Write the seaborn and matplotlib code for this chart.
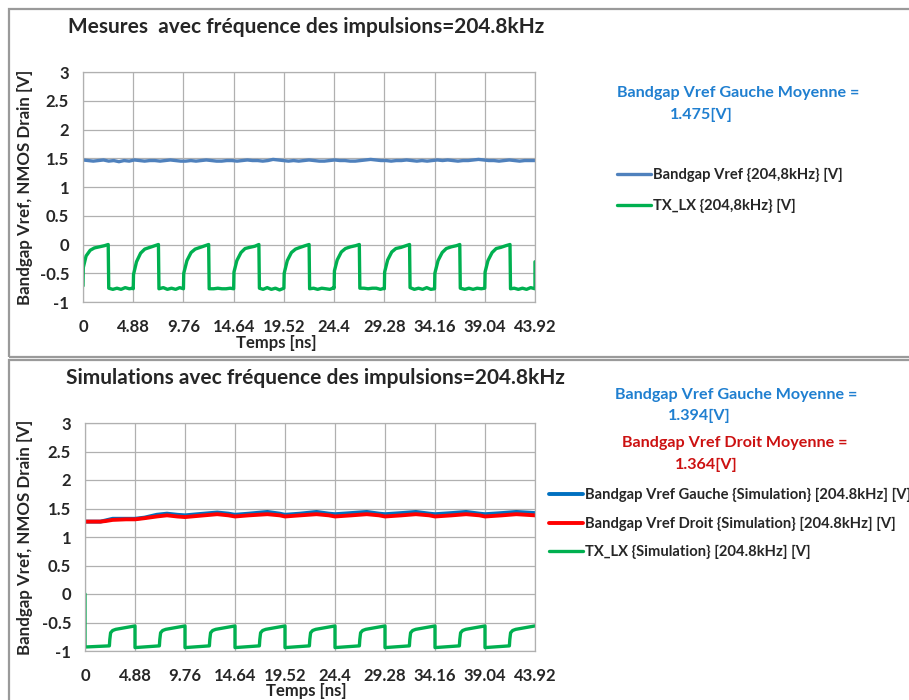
import numpy as np
import matplotlib.pyplot as plt
import matplotlib.patches as patches
import seaborn as sns

# ---- axes / ticks ----
x_ticks = [0, 4.88, 9.76, 14.64, 19.52, 24.4, 29.28, 34.16, 39.04, 43.92]
x_tick_labels = ["0", "4.88", "9.76", "14.64", "19.52", "24.4", "29.28", "34.16", "39.04", "43.92"]
y_ticks = [-1, -0.5, 0, 0.5, 1, 1.5, 2, 2.5, 3]
y_tick_labels = ["-1", "-0.5", "0", "0.5", "1", "1.5", "2", "2.5", "3"]

# ---- Mesures: Bandgap Vref (regular sampling over 0..43.92 ns) ----
vref_mes_v = [1.47, 1.46, 1.45, 1.46, 1.47, 1.45, 1.46, 1.44, 1.46, 1.45, 1.47, 1.46, 1.45, 1.46,
              1.46, 1.45, 1.46, 1.47, 1.46, 1.45, 1.45, 1.46, 1.45, 1.46, 1.47, 1.46, 1.45, 1.45,
              1.46, 1.46, 1.45, 1.46, 1.47, 1.46, 1.46, 1.45, 1.46, 1.48, 1.47, 1.46, 1.45, 1.46,
              1.45, 1.46, 1.47, 1.46, 1.45, 1.45, 1.46, 1.47, 1.46, 1.46, 1.45, 1.45, 1.46, 1.47,
              1.48, 1.47, 1.46, 1.46, 1.45, 1.46, 1.46, 1.47, 1.46, 1.45, 1.46, 1.45, 1.46, 1.47,
              1.46, 1.47, 1.46, 1.45, 1.46, 1.46, 1.47, 1.48, 1.47, 1.46, 1.46, 1.45, 1.46, 1.47,
              1.46, 1.45, 1.46, 1.46, 1.46]
vref_mes_t = np.linspace(0, 43.92, len(vref_mes_v))

# ---- Mesures: TX_LX ----
tx_mes_t = [0, 0.03, 0.3, 0.7, 1.1, 1.6, 2.1, 2.45, 2.5, 2.9, 3.3, 3.7, 4.1, 4.5, 4.86,
            4.88, 4.91, 5.2, 5.6, 6.0, 6.5, 7.0, 7.33, 7.38, 7.8, 8.2, 8.6, 9.0, 9.4, 9.74,
            9.76, 9.79, 10.1, 10.5, 10.9, 11.4, 11.9, 12.21, 12.26, 12.7, 13.1, 13.5, 13.9, 14.3, 14.62,
            14.64, 14.67, 14.95, 15.35, 15.75, 16.2, 16.7, 17.09, 17.14, 17.5, 17.9, 18.3, 18.7, 19.1, 19.5,
            19.52, 19.55, 19.85, 20.25, 20.65, 21.1, 21.6, 21.97, 22.02, 22.4, 22.8, 23.2, 23.6, 24.0, 24.38,
            24.4, 24.43, 24.7, 25.1, 25.5, 26.0, 26.5, 26.85, 26.9, 27.3, 27.7, 28.1, 28.5, 28.9, 29.26,
            29.28, 29.31, 29.6, 30.0, 30.4, 30.9, 31.4, 31.73, 31.78, 32.2, 32.6, 33.0, 33.4, 33.8, 34.14,
            34.16, 34.19, 34.5, 34.9, 35.3, 35.8, 36.3, 36.61, 36.66, 37.1, 37.5, 37.9, 38.3, 38.7, 39.02,
            39.04, 39.07, 39.35, 39.75, 40.15, 40.6, 41.1, 41.49, 41.54, 41.9, 42.3, 42.7, 43.1, 43.5, 43.92,
            43.92]
tx_mes_v = [-0.72, -0.40, -0.20, -0.10, -0.06, -0.04, -0.02, 0.0, -0.76, -0.78, -0.76, -0.78, -0.75, -0.77, -0.76,
            -0.77, -0.52, -0.30, -0.15, -0.08, -0.05, -0.02, 0.0, -0.77, -0.75, -0.78, -0.76, -0.78, -0.75, -0.77,
            -0.77, -0.50, -0.28, -0.14, -0.08, -0.05, -0.02, 0.0, -0.77, -0.77, -0.76, -0.77, -0.77, -0.76, -0.77,
            -0.77, -0.48, -0.28, -0.14, -0.07, -0.05, -0.03, 0.0, -0.76, -0.78, -0.75, -0.78, -0.76, -0.79, -0.76,
            -0.76, -0.50, -0.28, -0.14, -0.08, -0.05, -0.02, 0.0, -0.77, -0.76, -0.78, -0.76, -0.77, -0.78, -0.75,
            -0.76, -0.46, -0.27, -0.13, -0.07, -0.04, -0.02, 0.0, -0.76, -0.76, -0.77, -0.76, -0.76, -0.78, -0.76,
            -0.77, -0.48, -0.27, -0.13, -0.07, -0.05, -0.02, 0.0, -0.75, -0.78, -0.76, -0.78, -0.75, -0.78, -0.77,
            -0.77, -0.50, -0.28, -0.14, -0.07, -0.04, -0.02, 0.0, -0.76, -0.78, -0.76, -0.78, -0.76, -0.77, -0.76,
            -0.76, -0.48, -0.28, -0.14, -0.07, -0.05, -0.02, 0.0, -0.77, -0.76, -0.78, -0.76, -0.78, -0.75, -0.77,
            -0.30]

# ---- Simulations: Bandgap Vref Gauche / Droit ----
vref_sim_t = [0, 1.5, 2.0, 2.7, 4.0, 4.88, 5.8, 7.0, 8.0, 9.0, 9.76, 11.0, 12.9, 14.0, 14.64,
              16.0, 17.8, 19.0, 19.52, 21.0, 22.6, 23.8, 24.4, 26.0, 27.5, 28.7, 29.28,
              30.9, 32.3, 33.6, 34.16, 35.8, 37.2, 38.5, 39.04, 40.7, 42.1, 43.92]
vref_gauche_sim = [1.27, 1.27, 1.29, 1.32, 1.32, 1.32, 1.34, 1.39, 1.41, 1.39, 1.38, 1.40, 1.43, 1.41, 1.39,
                   1.41, 1.44, 1.41, 1.39, 1.41, 1.44, 1.41, 1.40, 1.42, 1.44, 1.41, 1.40,
                   1.42, 1.44, 1.41, 1.40, 1.42, 1.44, 1.41, 1.40, 1.42, 1.44, 1.42]
vref_droit_sim = [1.27, 1.27, 1.28, 1.30, 1.31, 1.31, 1.33, 1.36, 1.38, 1.36, 1.35, 1.37, 1.40, 1.38, 1.36,
                  1.38, 1.40, 1.38, 1.36, 1.38, 1.40, 1.38, 1.36, 1.38, 1.40, 1.38, 1.36,
                  1.38, 1.40, 1.38, 1.36, 1.38, 1.40, 1.38, 1.36, 1.38, 1.40, 1.38]

# ---- Simulations: TX_LX ----
tx_sim_t = [0, 0.0, 2.38, 2.42, 2.5, 2.7, 3.0, 4.88,
            4.88, 7.26, 7.30, 7.38, 7.58, 7.88, 9.76,
            9.76, 12.14, 12.18, 12.26, 12.46, 12.76, 14.64,
            14.64, 17.02, 17.06, 17.14, 17.34, 17.64, 19.52,
            19.52, 21.90, 21.94, 22.02, 22.22, 22.52, 24.4,
            24.4, 26.78, 26.82, 26.90, 27.10, 27.40, 29.28,
            29.28, 31.66, 31.70, 31.78, 31.98, 32.28, 34.16,
            34.16, 36.54, 36.58, 36.66, 36.86, 37.16, 39.04,
            39.04, 41.42, 41.46, 41.54, 41.74, 42.04, 43.92]
tx_sim_v = [0.0, -0.93, -0.91, -0.80, -0.68, -0.64, -0.62, -0.56,
            -0.94, -0.91, -0.80, -0.68, -0.64, -0.62, -0.56,
            -0.94, -0.91, -0.80, -0.68, -0.64, -0.62, -0.56,
            -0.94, -0.91, -0.80, -0.68, -0.64, -0.62, -0.56,
            -0.94, -0.91, -0.80, -0.68, -0.64, -0.62, -0.56,
            -0.94, -0.91, -0.80, -0.68, -0.64, -0.62, -0.56,
            -0.94, -0.91, -0.80, -0.68, -0.64, -0.62, -0.56,
            -0.94, -0.91, -0.80, -0.68, -0.64, -0.62, -0.56,
            -0.94, -0.91, -0.80, -0.68, -0.64, -0.62, -0.56]

# ---- texts ----
title_mes = "Mesures  avec fréquence des impulsions=204.8kHz"
title_sim = "Simulations avec fréquence des impulsions=204.8kHz"
y_label = "Bandgap Vref, NMOS Drain [V]"
x_label = "Temps [ns]"

sns.set_style("white")
plt.rcParams["font.family"] = ["Lato", "DejaVu Sans"]
plt.rcParams["font.weight"] = "bold"

BLUE_MES = "#4F81BD"
BLUE_SIM = "#0070C0"
RED = "#FF0000"
GREEN = "#00B050"
GRID = "#b0b0b0"
TXT_BLUE = "#1F7FD0"
TXT_RED = "#CC1111"

fig = plt.figure(figsize=(9.09, 7.0), dpi=100)

# panel borders
fig.add_artist(patches.Rectangle((9 / 909, 1 - 357 / 700), 1.2, 348 / 700, transform=fig.transFigure,
                                 fill=False, edgecolor="#9a9a9a", linewidth=1.6))
fig.add_artist(patches.Rectangle((9 / 909, -0.2), 1.2, 0.2 + 1 - 360 / 700, transform=fig.transFigure,
                                 fill=False, edgecolor="#9a9a9a", linewidth=1.6))

ax1 = fig.add_axes([83 / 909, 1 - 302 / 700, 452 / 909, 230 / 700])
ax2 = fig.add_axes([85 / 909, 1 - 651 / 700, 450 / 909, 228 / 700])


def style_axes(ax):
    ax.set_xlim(0, 43.92)
    ax.set_ylim(-1, 3)
    ax.set_xticks(x_ticks)
    ax.set_xticklabels(x_tick_labels)
    ax.set_yticks(y_ticks)
    ax.set_yticklabels(y_tick_labels)
    ax.grid(True, color=GRID, linewidth=0.9)
    ax.set_axisbelow(True)
    for s in ax.spines.values():
        s.set_color(GRID)
        s.set_linewidth(0.9)
    ax.tick_params(axis="x", length=0, pad=12, labelsize=12)
    ax.tick_params(axis="y", length=0, pad=10, labelsize=12)
    for lab in ax.get_xticklabels() + ax.get_yticklabels():
        lab.set_fontweight("bold")
    ax.set_xlabel("")
    ax.set_ylabel("")


# top: measures
sns.lineplot(x=vref_mes_t, y=vref_mes_v, ax=ax1, color=BLUE_MES, linewidth=2.4,
             estimator=None, sort=False, label="Bandgap Vref {204,8kHz} [V]")
sns.lineplot(x=tx_mes_t, y=tx_mes_v, ax=ax1, color=GREEN, linewidth=2.4,
             estimator=None, sort=False, label="TX_LX {204,8kHz} [V]")
style_axes(ax1)
h1, l1 = ax1.get_legend_handles_labels()
ax1.get_legend().remove()

# bottom: simulations
sns.lineplot(x=vref_sim_t, y=vref_gauche_sim, ax=ax2, color=BLUE_SIM, linewidth=2.8,
             estimator=None, sort=False, label="Bandgap Vref Gauche {Simulation} [204.8kHz] [V]")
sns.lineplot(x=vref_sim_t, y=vref_droit_sim, ax=ax2, color=RED, linewidth=2.8,
             estimator=None, sort=False, label="Bandgap Vref Droit {Simulation} [204.8kHz] [V]")
sns.lineplot(x=tx_sim_t, y=tx_sim_v, ax=ax2, color=GREEN, linewidth=2.4,
             estimator=None, sort=False, label="TX_LX {Simulation} [204.8kHz] [V]")
style_axes(ax2)
h2, l2 = ax2.get_legend_handles_labels()
ax2.get_legend().remove()

leg_kw = dict(frameon=False, loc="upper left", borderpad=0, borderaxespad=0,
              handlelength=2.3, handletextpad=0.15, prop={"weight": "bold", "size": 10.6})
fig.legend(h1, l1, bbox_to_anchor=(617 / 909, 1 - 168 / 700), labelspacing=1.12, **leg_kw)
fig.legend(h2, l2, bbox_to_anchor=(549 / 909, 1 - 488 / 700), labelspacing=0.98, **leg_kw)

# titles and axis labels
fig.text(68 / 909, 1 - 27 / 700, title_mes, ha="left", va="center", fontsize=15, fontweight="bold")
fig.text(66 / 909, 1 - 378 / 700, title_sim, ha="left", va="center", fontsize=15, fontweight="bold")
for yc in (187, 537):
    fig.text(25 / 909, 1 - yc / 700, y_label, rotation=90, ha="center", va="center",
             fontsize=12.2, fontweight="bold")
fig.text(276 / 909, 1 - 343 / 700, x_label, ha="center", va="center", fontsize=12, fontweight="bold")
fig.text(306 / 909, 1 - 691 / 700, x_label, ha="center", va="center", fontsize=12, fontweight="bold")

# mean annotations
fig.text(617 / 909, 1 - 93 / 700, "Bandgap Vref Gauche Moyenne =", color=TXT_BLUE,
         ha="left", va="center", fontsize=11.6, fontweight="bold")
fig.text(670 / 909, 1 - 115 / 700, "1.475[V]", color=TXT_BLUE,
         ha="left", va="center", fontsize=11.6, fontweight="bold")
fig.text(615 / 909, 1 - 395 / 700, "Bandgap Vref Gauche Moyenne =", color=TXT_BLUE,
         ha="left", va="center", fontsize=11.6, fontweight="bold")
fig.text(668 / 909, 1 - 416 / 700, "1.394[V]", color=TXT_BLUE,
         ha="left", va="center", fontsize=11.6, fontweight="bold")
fig.text(622 / 909, 1 - 443 / 700, "Bandgap Vref Droit Moyenne =", color=TXT_RED,
         ha="left", va="center", fontsize=11.6, fontweight="bold")
fig.text(675 / 909, 1 - 465 / 700, "1.364[V]", color=TXT_RED,
         ha="left", va="center", fontsize=11.6, fontweight="bold")

fig.savefig("out.png", dpi=100)
